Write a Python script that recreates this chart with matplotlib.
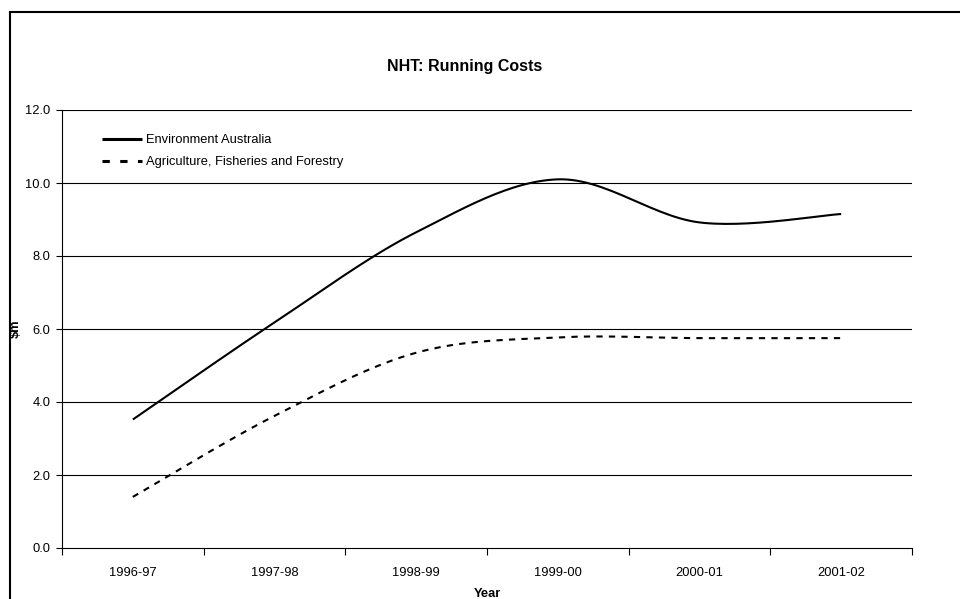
import numpy as np
import matplotlib
matplotlib.use("Agg")
import matplotlib.pyplot as plt
from matplotlib.lines import Line2D

plt.rcParams['font.family'] = ['Liberation Sans', 'DejaVu Sans']

years = ["1996-97", "1997-98", "1998-99", "1999-00", "2000-01", "2001-02"]
env_australia = [3.52, 6.18, 8.65, 10.1, 8.92, 9.15]
agriculture = [1.40, 3.62, 5.35, 5.77, 5.75, 5.75]
yticks = [0.0, 2.0, 4.0, 6.0, 8.0, 10.0, 12.0]


def smooth(x, y, n=30):
    # Catmull-Rom style smoothing similar to spreadsheet "smoothed line"
    x = np.asarray(x, float); y = np.asarray(y, float)
    px = np.concatenate([[2 * x[0] - x[1]], x, [2 * x[-1] - x[-2]]])
    py = np.concatenate([[y[0]], y, [y[-1]]])
    xs, ys = [], []
    for i in range(1, len(px) - 2):
        p0 = np.array([px[i], py[i]]); p1 = np.array([px[i + 1], py[i + 1]])
        if i == 1:
            t0 = (p1 - p0) / 6
        else:
            t0 = (p1 - np.array([px[i - 1], py[i - 1]])) / 6
        if i == len(px) - 3:
            t1 = (p1 - p0) / 6
        else:
            t1 = (np.array([px[i + 2], py[i + 2]]) - p0) / 6
        c1 = p0 + t0; c2 = p1 - t1
        t = np.linspace(0, 1, n)[:, None]
        pts = ((1 - t) ** 3) * p0 + 3 * ((1 - t) ** 2) * t * c1 + 3 * (1 - t) * t ** 2 * c2 + t ** 3 * p1
        if i > 1:
            pts = pts[1:]
        xs.extend(pts[:, 0]); ys.extend(pts[:, 1])
    return np.array(xs), np.array(ys)


FS = 9.3
fig = plt.figure(figsize=(9.6, 5.99), dpi=100)
ax = fig.add_axes([62 / 960, 1 - 548 / 599, (912 - 62) / 960, (548 - 110) / 599])

xpos = np.arange(len(years))
sx, sy = smooth(xpos, env_australia)
ax.plot(sx, sy, color='black', lw=1.5, solid_capstyle='butt')
sx2, sy2 = smooth(xpos, agriculture)
ax.plot(sx2, sy2, color='black', lw=1.5, dashes=(3, 3))

ax.set_xlim(-0.5, len(years) - 0.5)
ax.set_ylim(0, 12)
ax.set_yticks(yticks)
ax.set_yticklabels([f"{v:.1f}" for v in yticks], fontsize=FS)
ax.set_xticks(xpos)
ax.set_xticklabels(years, fontsize=FS)
ax.set_xticks(np.arange(-0.5, len(years)), minor=True)
ax.tick_params(axis='x', which='major', length=0, pad=13.5)
ax.tick_params(axis='x', which='minor', length=5, width=0.8, direction='out')
ax.tick_params(axis='y', length=4, width=0.8, direction='out', pad=4.5)
for v in yticks[1:]:
    ax.axhline(v, color='black', lw=0.8, zorder=0)
for s in ['top', 'right']:
    ax.spines[s].set_visible(False)
ax.spines['left'].set_linewidth(0.8)
ax.spines['bottom'].set_linewidth(0.8)

fig.text(465 / 960, 1 - 67 / 599, "NHT: Running Costs", fontsize=11.5, fontweight='bold',
         ha='center', va='center')
ax.set_xlabel("Year", fontsize=FS, fontweight='bold', labelpad=7)
ax.set_ylabel("$m", fontsize=FS, fontweight='bold', labelpad=2)

handles = [Line2D([], [], color='black', lw=2.2, solid_capstyle='butt'),
           Line2D([], [], color='black', lw=2.2, dashes=(2.4, 3.4))]
labels = ["Environment Australia", "Agriculture, Fisheries and Forestry"]
ax.legend(handles, labels, loc='upper left', bbox_to_anchor=(0.036, 0.965), frameon=False,
          fontsize=FS, handlelength=3.1, handletextpad=0.3, labelspacing=0.75,
          borderaxespad=0.3)

fig.add_artist(Line2D([10 / 960, 1], [1 - 12 / 599, 1 - 12 / 599], color='black', lw=1.5, transform=fig.transFigure))
fig.add_artist(Line2D([10 / 960, 10 / 960], [0, 1 - 12 / 599], color='black', lw=1.5, transform=fig.transFigure))

fig.savefig("out.png", dpi=100)
